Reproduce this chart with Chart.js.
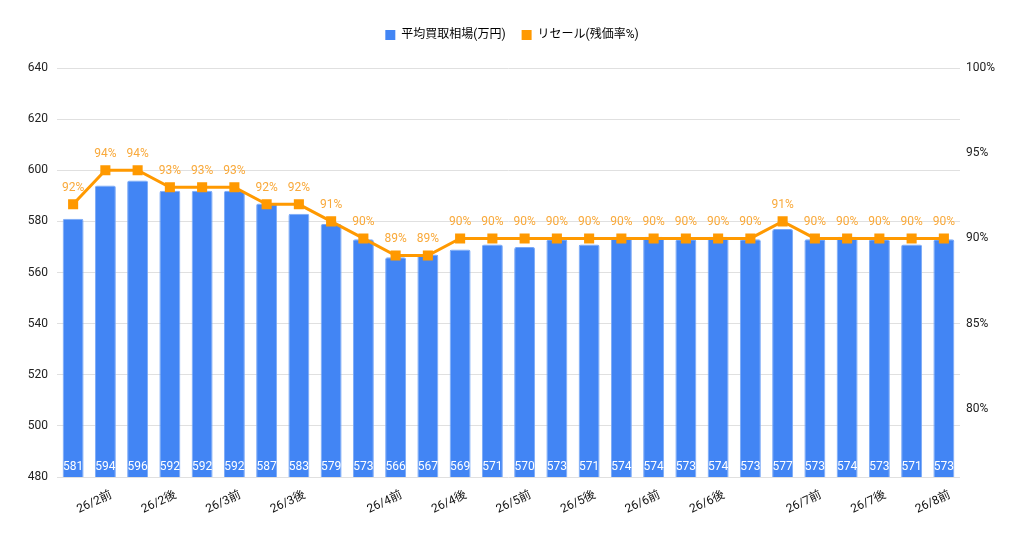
<!DOCTYPE html>
<html lang="ja">
<head>
<meta charset="UTF-8">
<title>平均買取相場とリセール</title>
<style>
  body { margin: 0; padding: 0; background: #fff; }
  .chart-container { width: 1024px; height: 535px; }
</style>
</head>
<body>
<div class="chart-container">
  <canvas id="resaleChart"></canvas>
</div>
<script src="https://cdn.jsdelivr.net/npm/chart.js"></script>
<script>
  // visible tick labels only (Sheets skipped the rest)
  const periods = ['', '26/2前', '', '26/2後', '', '26/3前', '', '26/3後', '', '', '26/4前', '', '26/4後', '',
                   '26/5前', '', '26/5後', '', '26/6前', '', '26/6後', '', '', '26/7前', '', '26/7後', '', '26/8前'];
  const avgPrice = [581, 594, 596, 592, 592, 592, 587, 583, 579, 573, 566, 567, 569, 571,
                    570, 573, 571, 574, 574, 573, 574, 573, 577, 573, 574, 573, 571, 573];
  const resaleRate = [92, 94, 94, 93, 93, 93, 92, 92, 91, 90, 89, 89, 90, 90,
                      90, 90, 90, 90, 90, 90, 90, 90, 91, 90, 90, 90, 90, 90];
  const priceTicks = { min: 480, max: 640, step: 20 };
  const rateTicks = { min: 76, max: 100, step: 5 };

  const FONT = "Roboto, 'Noto Sans CJK JP', sans-serif";

  // value labels (no datalabels plugin available) + extra room under the legend
  const valueLabels = {
    id: 'valueLabels',
    afterInit(chart) {
      const legend = chart.legend;
      const fit = legend.fit;
      legend.fit = function () {
        fit.call(this);
        this.height += 17;
      };
    },
    afterDraw(chart) {
      const ctx = chart.ctx;
      const bottom = chart.scales.y.bottom;
      ctx.save();
      ctx.font = '12px ' + FONT;
      ctx.textAlign = 'center';
      ctx.textBaseline = 'middle';
      chart.getDatasetMeta(1).data.forEach((bar, i) => {
        ctx.fillStyle = '#ffffff';
        ctx.fillText(String(avgPrice[i]), bar.x, bottom - 10);
      });
      chart.getDatasetMeta(0).data.forEach((pt, i) => {
        ctx.fillStyle = '#f9a93a';
        ctx.fillText(resaleRate[i] + '%', pt.x, pt.y - 16);
      });
      ctx.restore();
    }
  };

  const resaleChart = new Chart(document.getElementById('resaleChart'), {
    data: {
      labels: periods,
      datasets: [{
        type: 'line',
        label: 'リセール(残価率%)',
        data: resaleRate,
        yAxisID: 'y1',
        borderColor: '#ff9900',
        backgroundColor: '#ff9900',
        borderWidth: 3,
        pointStyle: 'rect',
        pointRadius: 5,
        pointHoverRadius: 5,
        tension: 0,
        order: 0
      }, {
        type: 'bar',
        label: '平均買取相場(万円)',
        data: avgPrice,
        yAxisID: 'y',
        backgroundColor: '#4285f4',
        borderColor: '#7aa9f7',
        borderWidth: 1,
        borderRadius: 2,
        borderSkipped: 'bottom',
        categoryPercentage: 1,
        barPercentage: 0.65,
        order: 1
      }]
    },
    options: {
      responsive: true,
      maintainAspectRatio: false,
      animation: false,
      layout: { padding: { left: 0, right: 0, top: 13, bottom: 0 } },
      plugins: {
        legend: {
          position: 'top',
          reverse: true,
          labels: {
            font: { family: FONT, size: 12 },
            color: '#222',
            boxWidth: 10,
            boxHeight: 10,
            padding: 16,
            generateLabels(chart) {
              return chart.data.datasets.map((ds, i) => ({
                text: ds.label,
                fillStyle: i === 0 ? '#ff9900' : '#4285f4',
                strokeStyle: i === 0 ? '#ff9900' : '#4285f4',
                lineWidth: 0,
                datasetIndex: i,
                hidden: false
              }));
            }
          }
        },
        tooltip: { enabled: false }
      },
      scales: {
        x: {
          grid: { display: false },
          border: { display: false },
          ticks: {
            autoSkip: false,
            maxRotation: 25,
            minRotation: 25,
            labelOffset: 6,
            font: { family: FONT, size: 12 },
            color: '#111'
          },
          afterFit(scale) { scale.height = 58; }
        },
        y: {
          position: 'left',
          min: priceTicks.min,
          max: priceTicks.max,
          ticks: {
            stepSize: priceTicks.step,
            font: { family: FONT, size: 12 },
            color: '#222',
            padding: 9
          },
          grid: { color: '#e0e0e0', drawTicks: false },
          border: { display: false },
          afterFit(scale) { scale.width = 57; }
        },
        y1: {
          position: 'right',
          min: rateTicks.min,
          max: rateTicks.max,
          ticks: {
            stepSize: rateTicks.step,
            font: { family: FONT, size: 12 },
            color: '#222',
            padding: 6,
            callback: v => (v % rateTicks.step === 0 ? v + '%' : '')
          },
          grid: { display: false, drawTicks: false },
          border: { display: false },
          afterFit(scale) { scale.width = 64; }
        }
      }
    },
    plugins: [valueLabels]
  });
</script>
</body>
</html>
